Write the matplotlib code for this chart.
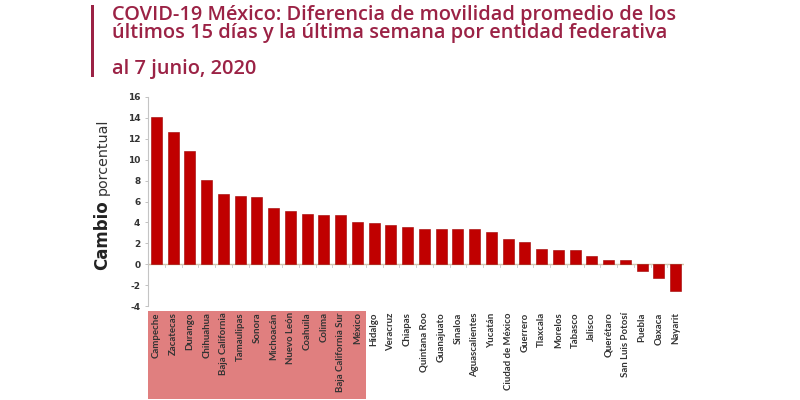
import matplotlib.pyplot as plt
from matplotlib.transforms import blended_transform_factory

# Cambio porcentual de movilidad por entidad (al 7 junio 2020)
estados = ["Campeche", "Zacatecas", "Durango", "Chihuahua", "Baja California",
           "Tamaulipas", "Sonora", "Michoacán", "Nuevo León", "Coahuila", "Colima",
           "Baja California Sur", "México", "Hidalgo", "Veracruz", "Chiapas",
           "Quintana Roo", "Guanajuato", "Sinaloa", "Aguascalientes", "Yucatán",
           "Ciudad de México", "Guerrero", "Tlaxcala", "Morelos", "Tabasco",
           "Jalisco", "Querétaro", "San Luis Potosí", "Puebla", "Oaxaca", "Nayarit"]
cambio = [14.05, 12.64, 10.88, 8.06, 6.69, 6.56, 6.46, 5.41, 5.09, 4.77, 4.70,
          4.70, 4.0, 3.9, 3.74, 3.52, 3.39, 3.33, 3.33, 3.33, 3.04, 2.43, 2.11,
          1.5, 1.38, 1.38, 0.83, 0.42, 0.42, -0.67, -1.28, -2.56]
n_destacados = 13  # entidades resaltadas en rosa
yticks = list(range(-4, 17, 2))

guinda = "#9B2245"
texto = "#333333"

fig = plt.figure(figsize=(8, 4), dpi=100)
ax = fig.add_axes([0.185, 0.235, 0.67, 0.5225])

x = list(range(len(estados)))
ax.bar(x, cambio, width=0.66, color="#C00000", edgecolor="#A00000", linewidth=0.4, zorder=3)

ax.set_xlim(-0.5, len(estados) - 0.5)
ax.set_ylim(-4, 16)
ax.set_yticks(yticks)
ax.set_yticklabels([str(t) for t in yticks], fontsize=6.5, fontweight="bold",
                   color=texto, family="DejaVu Sans")
ax.tick_params(axis="y", length=2.5, width=0.6, color="#b8b8b8", pad=3)

for s in ["top", "right", "bottom"]:
    ax.spines[s].set_visible(False)
ax.spines["left"].set_color("#c4c4c4")
ax.spines["left"].set_linewidth(0.8)

# linea del cero con marcas entre barras
ax.axhline(0, color="#d2c4a8", linewidth=1.0, zorder=2)
ax.set_xticks([])
for i in x[:-1]:
    ax.plot([i + 0.5, i + 0.5], [0, -0.25], color="#c8c8c8", linewidth=0.6, zorder=2)

# etiquetas de entidades
trans = blended_transform_factory(ax.transData, ax.transAxes)
for i, nombre in enumerate(estados):
    ax.text(i, -0.03, nombre, rotation=90, ha="center", va="top", fontsize=6.9,
            fontweight="bold", color=texto, family="Lato", transform=trans)

# recuadro rosa detras de las primeras entidades
ax.add_patch(plt.Rectangle((-0.5, -0.445), n_destacados, 0.42, transform=trans,
                           facecolor="#E07F7F", edgecolor="none", clip_on=False, zorder=0))

# titulo
fig.patches.append(plt.Rectangle((0.1135, 0.807), 0.0045, 0.18, transform=fig.transFigure,
                                 facecolor=guinda, edgecolor="none"))
for yy, linea in [(0.95, "COVID-19 México: Diferencia de movilidad promedio de los"),
                  (0.905, "últimos 15 días y la última semana por entidad federativa"),
                  (0.815, "al 7 junio, 2020")]:
    fig.text(0.14, yy, linea, fontsize=14.4, fontweight="semibold", color=guinda,
             family="Open Sans", va="baseline")

# etiqueta eje y con "Cambio" en negrita
fig.canvas.draw()
r = fig.canvas.get_renderer()
t1 = fig.text(0.128, 1 - 270 / 400, "Cambio", rotation=90, fontsize=12, fontweight="bold",
              color="#222222", family="DejaVu Sans", ha="center", va="bottom")
bb = t1.get_window_extent(renderer=r)
top = bb.y1 / fig.bbox.height
fig.text(0.128, top + 0.014, "porcentual", rotation=90, fontsize=10.3,
         color="#333333", family="DejaVu Sans", ha="center", va="bottom")

fig.savefig("out.png", dpi=100, facecolor="white")
